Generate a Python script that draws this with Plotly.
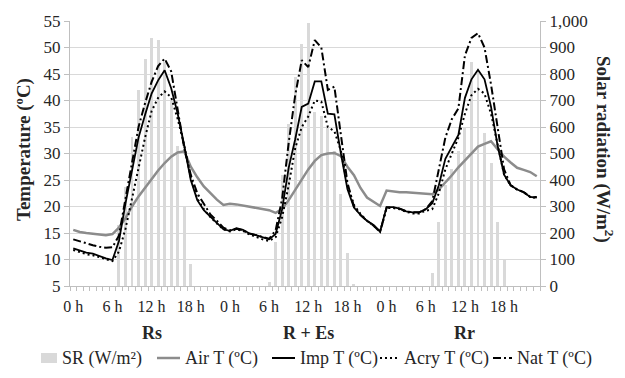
import plotly.graph_objects as go

# hour index (3 days x 24 h)
hours = list(range(72))
tick_pos = [0, 6, 12, 18, 24, 30, 36, 42, 48, 54, 60, 66]
tick_text = ["0 h", "6 h", "12 h", "18 h"] * 3
day_labels = ["Rs", "R + Es", "Rr"]
day_centers = [12, 36, 60]

sr = [0, 0, 0, 0, 0, 0, 0, 230, 372, 563, 741, 858, 934, 930, 845, 700, 528, 297, 83, 0, 0, 0, 0, 0,
      0, 0, 0, 0, 0, 0, 16, 167, 420, 613, 789, 915, 992, 657, 640, 600, 510, 347, 123, 5, 0, 0, 0, 0,
      0, 0, 0, 0, 0, 0, 0, 48, 242, 380, 440, 510, 600, 845, 815, 578, 465, 242, 100, 0, 0, 0, 0, 0]

air_t = [15.6, 15.2, 15.0, 14.9, 14.7, 14.6, 14.8, 16.0, 17.8, 20.0, 21.9, 23.6, 25.3, 26.8, 28.2, 29.4, 30.2, 30.4, 27.5, 25.5, 23.8, 22.5, 21.3, 20.3,
         20.5, 20.4, 20.2, 20.0, 19.8, 19.6, 19.3, 18.8, 19.5, 21.2, 23.2, 25.0, 27.0, 28.6, 29.7, 30.0, 30.1, 29.5, 27.5, 25.9, 23.5, 21.7, 20.9, 20.1,
         23.0, 22.8, 22.7, 22.7, 22.6, 22.4, 22.3, 22.3, 23.2, 24.5, 25.9, 27.4, 28.7, 30.0, 31.3, 31.8, 32.3, 30.8, 29.4, 28.3, 27.3, 26.9, 26.5, 25.7]

imp_t = [12.1, 11.7, 11.3, 11.1, 10.6, 10.2, 9.9, 13.5, 20.6, 26.5, 33.0, 37.3, 41.3, 43.8, 45.7, 42.3, 37.5, 31.5, 25.0, 21.2, 19.3, 18.1, 16.8, 15.7,
         15.4, 15.9, 15.6, 14.9, 14.6, 14.2, 13.8, 14.8, 19.5, 27.3, 32.7, 38.8, 39.4, 43.6, 43.6, 37.5, 37.4, 30.0, 23.3, 19.8, 18.4, 17.3, 16.5, 15.3,
         19.9, 19.9, 19.6, 19.1, 18.9, 18.9, 19.5, 20.6, 24.0, 29.0, 31.3, 33.5, 40.5, 44.0, 45.8, 44.0, 38.8, 31.5, 26.0, 24.0, 23.2, 22.7, 21.8, 21.7]

acry_t = [11.8, 11.4, 11.0, 10.8, 10.4, 10.0, 9.7, 11.5, 15.8, 21.5, 27.5, 33.0, 38.0, 40.5, 41.7, 40.6, 36.5, 31.5, 25.5, 21.5, 19.5, 18.0, 16.8, 15.7,
          15.3, 15.7, 15.4, 14.7, 14.3, 13.8, 13.5, 14.2, 18.0, 24.0, 31.0, 35.0, 37.0, 40.0, 39.8, 35.0, 34.2, 30.5, 24.0, 20.3, 18.6, 17.3, 16.4, 15.2,
          19.7, 19.7, 19.5, 19.0, 18.7, 18.7, 19.2, 19.5, 22.5, 27.0, 30.0, 33.0, 37.5, 41.0, 42.2, 41.3, 37.5, 31.5, 26.0, 24.0, 23.2, 22.7, 21.8, 21.6]

nat_t = [13.8, 13.4, 13.0, 12.7, 12.4, 12.2, 12.3, 14.5, 21.5, 28.5, 35.0, 39.5, 43.5, 46.5, 47.9, 45.5, 38.5, 31.0, 26.0, 22.5, 20.5, 18.5, 17.3, 16.0,
         15.5, 15.8, 15.5, 14.9, 14.6, 14.2, 13.9, 15.5, 21.5, 32.0, 41.0, 47.6, 46.3, 51.4, 50.0, 42.0, 42.6, 33.5, 24.5, 20.0, 18.4, 17.3, 16.4, 15.2,
         19.8, 19.8, 19.6, 19.1, 18.9, 18.9, 19.5, 21.0, 27.0, 33.0, 36.5, 38.5, 48.5, 51.8, 52.7, 50.0, 43.0, 35.0, 27.0, 24.0, 23.2, 22.7, 21.8, 21.8]

series_names = ["SR (W/m²)", "Air T (ºC)", "Imp T (ºC)", "Acry T (ºC)", "Nat T (ºC)"]

FONT = "Liberation Serif, Times New Roman, Times, serif"
TXT = "#262626"
GRID = "#d9d9d9"
AXL = "#bfbfbf"
BAR_C = "#d9d9d9"
AIR_C = "#8c8c8c"
DOT = "2px,3px"
DASHDOT = "8px,3px,2px,3px"

# page body has an 8px margin: draw the figure 8px smaller so the chart lands where it should
W, H = 617, 370
L, T, PW, PH = 62, 13, 470, 265


def px_x(px):  # reference-pixel x -> paper
    return (px - 70) / PW


def px_y(py):  # reference-pixel y -> paper
    return (286 - py) / PH


fig = go.Figure()
fig.add_trace(go.Bar(x=hours, y=sr, yaxis="y", width=0.45, marker_color=BAR_C,
                     marker_line_width=0, name=series_names[0], showlegend=False))
fig.add_trace(go.Scatter(x=hours, y=air_t, yaxis="y2", mode="lines", name=series_names[1],
                         line=dict(color=AIR_C, width=2.5), showlegend=False))
fig.add_trace(go.Scatter(x=hours, y=imp_t, yaxis="y2", mode="lines", name=series_names[2],
                         line=dict(color="#000000", width=1.8), showlegend=False))
fig.add_trace(go.Scatter(x=hours, y=acry_t, yaxis="y2", mode="lines", name=series_names[3],
                         line=dict(color="#000000", width=2, dash=DOT), showlegend=False))
fig.add_trace(go.Scatter(x=hours, y=nat_t, yaxis="y2", mode="lines", name=series_names[4],
                         line=dict(color="#000000", width=2, dash=DASHDOT), showlegend=False))

annotations = [
    dict(text="<b>Temperature (ºC)</b>", x=px_x(24), y=px_y(150), xref="paper", yref="paper",
         xanchor="center", yanchor="middle",
         textangle=-90, showarrow=False, font=dict(family=FONT, size=19, color=TXT)),
    dict(text="<b>Solar radiation (W/m<sup>2</sup>)</b>", x=px_x(605), y=px_y(149), xref="paper", yref="paper",
         xanchor="center", yanchor="middle",
         textangle=90, showarrow=False, font=dict(family=FONT, size=19, color=TXT)),
]
for lab, c in zip(day_labels, day_centers):
    annotations.append(dict(text=f"<b>{lab}</b>", x=c, y=px_y(333), xref="x", yref="paper",
                            yanchor="middle", showarrow=False,
                            font=dict(family=FONT, size=18, color=TXT)))

# legend (drawn as a row of key symbols + labels, like the original)
LEG_Y = 358
leg_sym = [(41, 57), (157, 180), (272, 295), (380, 400), (493, 512)]
leg_txt = [60, 183, 298, 402, 515]
shapes = [dict(type="rect", xref="paper", yref="paper", x0=px_x(leg_sym[0][0]), x1=px_x(leg_sym[0][1]),
               y0=px_y(LEG_Y + 5), y1=px_y(LEG_Y - 5), fillcolor=BAR_C, line=dict(width=0))]
leg_lines = [dict(color=AIR_C, width=2.5), dict(color="#000000", width=2),
             dict(color="#000000", width=2, dash=DOT), dict(color="#000000", width=2, dash=DASHDOT)]
for (a, b), ln in zip(leg_sym[1:], leg_lines):
    shapes.append(dict(type="line", xref="paper", yref="paper", x0=px_x(a), x1=px_x(b),
                       y0=px_y(LEG_Y), y1=px_y(LEG_Y), line=ln))
for name, tx in zip(series_names, leg_txt):
    annotations.append(dict(text=name, x=px_x(tx), y=px_y(LEG_Y), xref="paper", yref="paper",
                            xanchor="left", yanchor="middle", showarrow=False,
                            font=dict(family=FONT, size=18, color=TXT)))

fig.update_layout(
    width=W, height=H,
    margin=dict(l=L, r=W - L - PW, t=T, b=H - T - PH, autoexpand=False),
    paper_bgcolor="white", plot_bgcolor="white",
    font=dict(family=FONT, size=16, color=TXT),
    bargap=0,
    showlegend=False,
    xaxis=dict(range=[-0.5, 71.5], tickmode="array", tickvals=tick_pos, ticktext=tick_text,
               showgrid=False, zeroline=False, showline=True, linecolor=AXL,
               ticks="outside", ticklen=6, tickcolor="rgba(0,0,0,0)",
               tickfont=dict(family=FONT, size=16, color=TXT),
               minor=dict(tick0=-0.5, dtick=1, ticks="outside", ticklen=4, tickcolor=AXL, showgrid=False)),
    yaxis=dict(side="right", range=[0, 1000], dtick=100, tickformat=",d",
               showgrid=True, gridcolor=GRID, zeroline=False, showline=True, linecolor=AXL,
               ticks="outside", ticklen=5, tickcolor=AXL,
               tickfont=dict(family=FONT, size=17, color=TXT)),
    yaxis2=dict(side="left", overlaying="y", range=[5, 55], dtick=5,
                showgrid=False, zeroline=False, showline=True, linecolor=AXL,
                ticks="outside", ticklen=5, tickcolor=AXL,
                tickfont=dict(family=FONT, size=17, color=TXT)),
    annotations=annotations,
    shapes=shapes,
)

fig.write_html("out.html")
